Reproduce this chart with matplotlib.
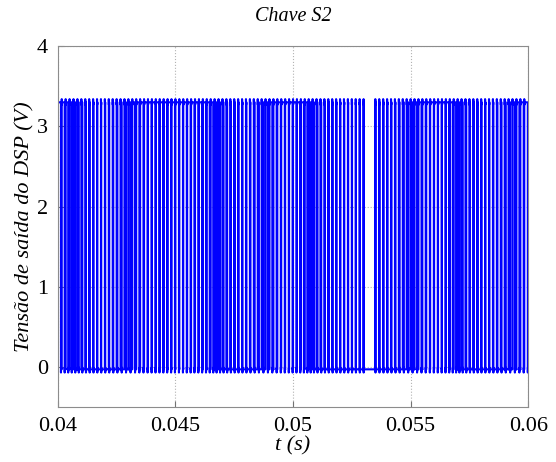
import numpy as np
import matplotlib
matplotlib.use('Agg')
import matplotlib.pyplot as plt

# PWM output: one duty value per switching period
t_start = 0.04
t_end = 0.06
v_high = 3.3
v_low = -0.03
overshoot = 0.04
duty = [0.8, 0.75, 0.65, 0.55, 0.45, 0.35,
        0.25, 0.18, 0.12, 0.1, 0.08, 0.08, 0.1, 0.12, 0.15, 0.2, 0.3, 0.4, 0.55,
        0.7, 0.8, 0.85, 0.9, 0.92, 0.92, 0.93, 0.92, 0.9, 0.9, 0.88, 0.9, 0.92, 0.9, 0.88, 0.85, 0.85, 0.82, 0.8, 0.75, 0.65,
        0.5, 0.38, 0.28,
        0.2, 0.15, 0.12, 0.1, 0.1, 0.12, 0.15, 0.22, 0.3,
        0.45, 0.6, 0.72,
        0.82, 0.88, 0.9, 0.92, 0.9, 0.88, 0.85, 0.78, 0.65, 0.5,
        0.35, 0.25, 0.2, 0.15, 0.12, 0.1, 0.1, 0.08, 0.08, 0.08, 0.06, 0.05, 0.04, 0.02, 0.0, 0.0,
        0.04, 0.06, 0.08, 0.1, 0.12, 0.15, 0.2, 0.28, 0.38, 0.5,
        0.65, 0.78, 0.85, 0.9, 0.92, 0.93, 0.92, 0.9, 0.85, 0.75, 0.6,
        0.45,
        0.3, 0.2, 0.15, 0.12, 0.1, 0.08, 0.08, 0.1, 0.12, 0.15, 0.2, 0.28, 0.4,
        0.6, 0.75, 0.85, 0.9]

xticks = [0.04, 0.045, 0.05, 0.055, 0.06]
xticklabels = ['0.04', '0.045', '0.05', '0.055', '0.06']
yticks = [0, 1, 2, 3, 4]

# build the square wave from the duty list (small ringing after each edge)
n_per = len(duty)
T = (t_end - t_start) / n_per
dt = 0.03 * T
t = []
v = []
for k in range(n_per):
    t0 = t_start + k * T
    d = duty[k]
    if d <= 0:
        t += [t0, t0 + T]
        v += [v_low, v_low]
        continue
    t1 = t0 + d * T
    t += [t0, t0, t0 + dt, t0 + 2 * dt, t1, t1, t1 + dt, t1 + 2 * dt, t0 + T]
    v += [v_low, v_high + overshoot, v_high - 0.03, v_high, v_high,
          v_low - overshoot, v_low + 0.02, v_low, v_low]

plt.rcParams['font.family'] = ['Liberation Serif', 'DejaVu Serif']

fig = plt.figure(figsize=(5.56, 4.62), dpi=100)
ax = fig.add_axes([0.104, 0.119, 0.846, 0.781])
ax.plot(t, v, color=(0, 0, 1), linewidth=1.5)

ax.set_xlim(t_start, t_end)
ax.set_ylim(-0.5, 4)
ax.set_xticks(xticks)
ax.set_xticklabels(xticklabels)
ax.set_yticks(yticks)
ax.tick_params(direction='in', labelsize=16, length=4, pad=7, colors='0.45', labelcolor='black')
ax.grid(True, linestyle=':', color='0.7', linewidth=0.8)
for s in ax.spines.values():
    s.set_color('0.55')

ax.set_title('Chave S2', fontstyle='italic', fontsize=14.5, pad=18)
ax.set_xlabel('t (s)', fontstyle='italic', fontsize=16, labelpad=0)
ax.set_ylabel('Tensão de saída do DSP (V)', fontstyle='italic', fontsize=16, labelpad=2)

plt.savefig('out.png', dpi=100)
plt.close()
